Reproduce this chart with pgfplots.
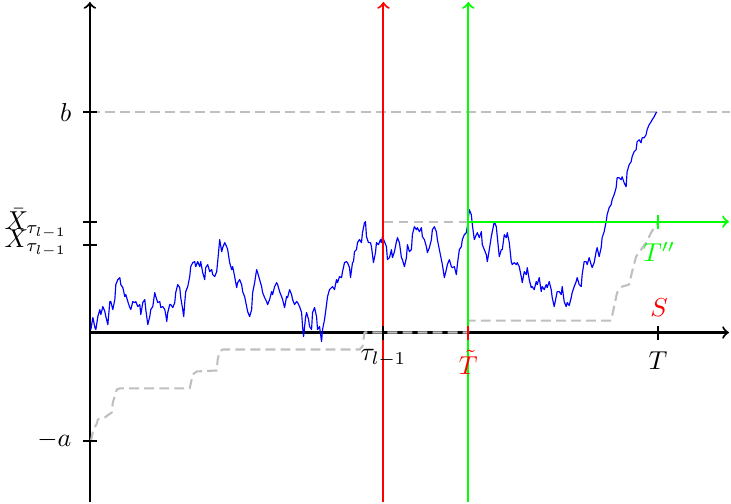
\documentclass[border=0pt]{standalone}
\usepackage{pgfplots}
\pgfplotsset{compat=1.18}

% sample path of the process
\pgfplotstableread{
x y
1 3
3 15
5 5
6 3
8 16
10 23
11 18
13 26
15 21
16 16
18 8
20 31
21 31
23 23
25 33
26 48
28 53
30 55
31 48
33 45
35 36
36 38
38 31
40 25
41 23
43 31
45 30
46 31
48 26
50 28
51 18
53 30
55 33
56 23
58 8
60 16
61 23
63 26
65 40
66 36
68 30
70 31
71 25
73 26
75 23
76 18
77 11
78 20
80 28
81 28
83 25
85 30
86 40
88 48
90 45
91 35
93 23
94 16
95 30
96 41
98 46
100 56
101 66
103 70
105 71
106 66
108 71
110 66
111 71
113 60
115 53
116 65
118 68
120 61
122 63
123 58
125 56
127 61
128 71
130 93
132 81
133 85
135 90
137 86
138 83
140 70
142 63
143 66
145 56
147 45
148 50
150 53
152 48
153 41
155 36
157 26
158 21
160 16
162 23
163 40
165 50
167 63
168 60
170 53
172 46
173 40
175 35
177 31
178 28
180 33
182 41
183 38
185 46
187 50
188 48
190 41
192 36
193 33
195 25
197 36
198 35
200 43
202 38
203 33
205 28
207 31
208 30
210 26
212 20
213 6
214 -4
216 15
217 20
219 13
220 6
222 3
223 20
225 25
227 16
228 3
230 6
232 -9
233 3
235 13
237 28
238 36
240 43
242 45
243 46
245 43
247 53
248 50
250 56
252 55
253 61
255 70
257 71
258 70
260 65
261 55
263 70
264 71
265 81
267 83
268 90
270 93
272 90
273 100
275 110
276 111
277 96
279 90
281 90
282 86
284 70
286 80
287 90
289 88
291 93
292 90
293 96
295 91
297 86
298 73
300 75
302 83
303 75
305 81
307 91
308 95
310 90
312 75
313 73
315 66
317 75
318 88
320 81
322 83
323 98
325 106
327 103
328 105
330 101
332 105
333 96
335 93
337 86
338 80
340 85
342 93
343 103
345 106
347 101
348 93
350 83
352 73
353 68
355 55
357 63
358 68
360 73
362 66
363 65
365 66
367 58
368 68
370 83
372 86
373 93
375 98
377 100
378 106
380 123
382 118
383 108
385 93
387 98
388 100
390 95
392 101
393 88
395 83
397 78
398 71
400 83
402 96
403 101
405 111
407 106
408 96
410 76
412 83
413 83
415 98
417 95
418 100
420 90
422 71
423 68
425 70
427 68
428 70
430 66
432 56
433 50
435 61
437 58
438 65
440 53
442 45
443 46
445 43
447 51
448 48
450 55
452 41
453 46
455 43
457 48
458 45
460 51
462 43
463 35
465 26
467 36
468 41
470 41
472 38
473 46
475 31
477 26
478 30
480 27
482 35
483 40
485 46
487 51
488 55
490 48
492 46
493 58
495 71
497 71
498 68
500 75
502 68
503 65
505 70
507 81
508 85
510 76
512 85
513 95
515 101
517 111
518 118
520 125
522 128
523 133
525 138
527 145
528 155
530 155
532 153
533 156
535 150
537 146
538 161
540 168
542 171
543 176
545 181
547 183
548 191
550 193
552 190
553 195
555 195
557 198
558 203
560 208
562 211
563 213
565 216
567 220
568 221
}\pathdata

% running level (staircase)
\pgfplotstableread{
x y
1 -109
3 -99
7 -91
8 -87
15 -85
22 -80
23 -70
27 -57
30 -56
100 -56
103 -42
107 -39
127 -38
128 -27
130 -19
133 -17
270 -17
273 -14
275 0
379 0
379 12
522 12
525 26
528 40
533 46
540 48
543 61
547 76
552 83
557 90
562 100
567 108
570 111
}\stairdata

\begin{document}
\begin{tikzpicture}
\begin{axis}[
  x=0.385pt, y=0.385pt,
  xmin=-90, xmax=641, ymin=-170, ymax=333,
  hide axis, clip=false,
  every axis plot/.append style={line join=round},
]
\path (axis cs:-90,-170) rectangle (axis cs:641,333);

% coordinate axes
\addplot[black, thick, ->] coordinates {(0,0) (640,0)};
\addplot[black, thick, ->] coordinates {(0,-170) (0,331)};

% dashed guide levels
\addplot[lightgray, thick, dash pattern=on 3.8pt off 2pt] coordinates {(0,221) (641,221)};
\addplot[lightgray, thick, dash pattern=on 3.8pt off 2pt] coordinates {(294,111) (379,111)};
\addplot[lightgray, thick, dash pattern=on 3.8pt off 2pt] table[x=x, y=y] {\stairdata};

% sample path
\addplot[blue, line width=0.45pt] table[x=x, y=y] {\pathdata};

% stopping times
\addplot[red, thick, ->] coordinates {(294,-170) (294,331)};
\addplot[green, thick, ->] coordinates {(379,-170) (379,331)};
\addplot[green, thick, ->] coordinates {(379,111) (640,111)};

% ticks
\draw[black, thick] (axis cs:-7,221) -- (axis cs:7,221);
\draw[black, thick] (axis cs:-7,111) -- (axis cs:7,111);
\draw[black, thick] (axis cs:-7,88) -- (axis cs:7,88);
\draw[black, thick] (axis cs:-7,-109) -- (axis cs:7,-109);
\draw[black, thick] (axis cs:294,-7) -- (axis cs:294,7);
\draw[red, thick] (axis cs:379,-7) -- (axis cs:379,7);
\draw[black, thick] (axis cs:569,-7) -- (axis cs:569,7);
\draw[green, thick] (axis cs:569,104) -- (axis cs:569,118);

% labels
\node[anchor=base east, inner sep=0] at (axis cs:-18,211) {$b$};
\node[anchor=base east, inner sep=0] at (axis cs:-22,103) {$\bar{X}_{\tau_{l-1}}$};
\node[anchor=base east, inner sep=0] at (axis cs:-22,85) {$X_{\tau_{l-1}}$};
\node[anchor=base east, inner sep=0] at (axis cs:-18,-114) {$-a$};
\node[anchor=base, inner sep=0] at (axis cs:294,-28) {$\tau_{l-1}$};
\node[anchor=base, inner sep=0, text=red] at (axis cs:379,-42) {$\tilde{T}$};
\node[anchor=base, inner sep=0] at (axis cs:569,-37) {$T$};
\node[anchor=base, inner sep=0, text=green] at (axis cs:570,71) {$T''$};
\node[anchor=base, inner sep=0, text=red] at (axis cs:570,16) {$S$};
\end{axis}
\end{tikzpicture}
\end{document}
